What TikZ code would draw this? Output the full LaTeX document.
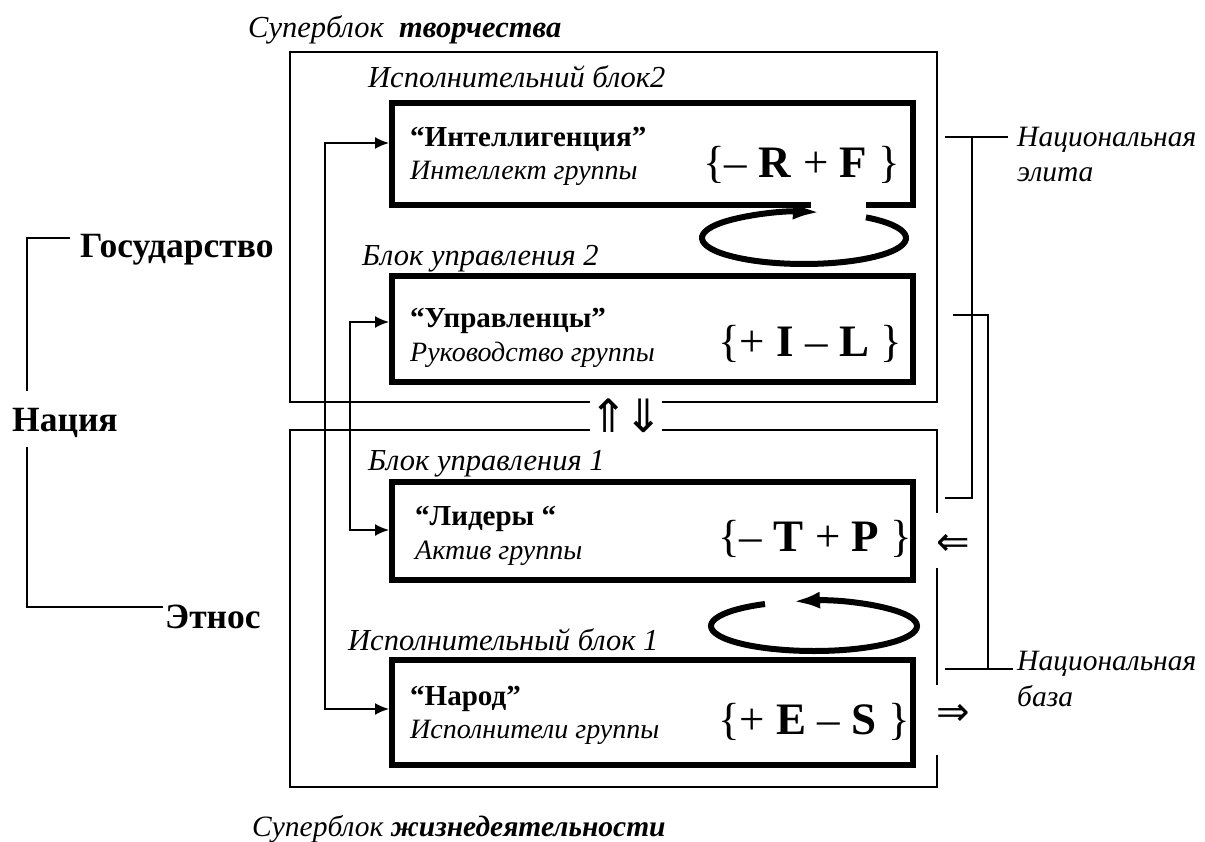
\documentclass[tikz,border=0pt]{standalone}
\usepackage{fontspec}
\setmainfont{Liberation Serif}
\newfontfamily\arrowfont{DejaVu Sans}
\usetikzlibrary{arrows.meta}
\begin{document}
\begin{tikzpicture}[x=1pt,y=1pt,
  bigbox/.style={draw, line width=6pt, minimum width=521pt, inner sep=0pt},
  frame/.style={line width=1.6pt},
  conn/.style={line width=2pt, {Latex[length=14pt,width=12pt]}-{Latex[length=14pt,width=12pt]}},
  cycl/.style={line width=6pt, -{Latex[length=27pt,width=17pt]}},
  brk/.style={line width=1.6pt},
  ilbl/.style={anchor=base west, inner sep=0pt, font=\fontsize{28}{30}\selectfont\itshape},
  hlbl/.style={anchor=base west, inner sep=0pt, font=\fontsize{30.5}{32}\selectfont\itshape},
  blbl/.style={anchor=base west, inner sep=0pt, font=\fontsize{29}{31}\selectfont\bfseries},
  nlbl/.style={anchor=base west, inner sep=0pt, font=\fontsize{35.5}{37}\selectfont\bfseries},
  formula/.style={anchor=base west, inner sep=0pt, font=\fontsize{45}{47}\selectfont},
  dbl/.style={inner sep=0pt, font=\fontsize{40}{42}\selectfont\arrowfont}
]
\fill[white] (0,0) rectangle (1205,-842);
\useasboundingbox (0,0) rectangle (1205,-842);

% superblocks
\draw[frame] (590,-402) -- (290,-402) -- (290,-52) -- (937,-52) -- (937,-402) -- (662,-402);
\draw[frame] (590,-430) -- (290,-430) -- (290,-787) -- (937,-787) -- (937,-755);
\draw[frame] (937,-685) -- (937,-568);
\draw[frame] (937,-513) -- (937,-430) -- (662,-430);

\node[hlbl] (sb1) at (248,-38) {Суперблок \ \textbf{творчества}};
\node[hlbl, font=\fontsize{29.5}{31}\selectfont\itshape] (sb2) at (252,-836) {Суперблок \textbf{жизнедеятельности}};

% block labels
\node[hlbl] (l1) at (368,-88) {Исполнительний блок2};
\node[hlbl] (l2) at (362,-266) {Блок управления 2};
\node[hlbl] (l3) at (368,-470) {Блок управления 1};
\node[hlbl] (l4) at (348,-650) {Исполнительный блок 1};

% boxes
\node[bigbox, minimum height=102pt] (b1) at (652.5,-154) {};
\node[bigbox, minimum height=106pt] (b2) at (652.5,-329) {};
\node[bigbox, minimum height=98pt] (b3) at (652.5,-531) {};
\node[bigbox, minimum height=105pt] (b4) at (652.5,-712.5) {};

\node[blbl] (t1) at (410,-147) {“Интеллигенция”};
\node[ilbl] (s1) at (410,-180) {Интеллект группы};
\node[formula] (f1) at (703,-178) {\{– \textbf{R} + \textbf{F} \}};

\node[blbl] (t2) at (410,-328) {“Управленцы”};
\node[ilbl] (s2) at (410,-361) {Руководство группы};
\node[formula] (f2) at (718,-356) {\{+ \textbf{I} – \textbf{L} \}};

\node[blbl] (t3) at (415,-525) {“Лидеры “};
\node[ilbl] (s3) at (415,-559) {Актив группы};
\node[formula] (f3) at (718,-551) {\{– \textbf{T} + \textbf{P} \}};

\node[blbl] (t4) at (410,-705) {“Народ”};
\node[ilbl] (s4) at (410,-738) {Исполнители группы};
\node[formula] (f4) at (718,-734) {\{+ \textbf{E} – \textbf{S} \}};

% cycles
\fill[white] (811,-198) rectangle (866,-210);
\draw[cycl] (804,-238) ++(52.6:102 and 26) arc[start angle=52.6, end angle=-279, x radius=102, y radius=26];
\draw[cycl] (814,-626) ++(118.4:103 and 25) arc[start angle=118.4, end angle=461.8, x radius=103, y radius=25];

% left connectors
\coordinate (o1) at (325,-143);
\coordinate (o4) at (325,-709);
\coordinate (i2) at (350,-322);
\coordinate (i3) at (350,-530);
\draw[conn] (b4.west |- o4) -- (o4) -- (o1) -- (b1.west |- o1);
\draw[conn] (b3.west |- i3) -- (i3) -- (i2) -- (b2.west |- i2);

% double arrows
\node[dbl, font=\fontsize{46}{48}\selectfont\arrowfont] (ud) at (626,-416) {⇑\kern-4pt⇓};
\node[dbl] (la) at (953,-545) {⇐};
\node[dbl] (ra) at (953,-715) {⇒};

% right brackets
\coordinate (e1) at (972,-137);
\coordinate (e2) at (972,-498);
\draw[brk] (945,-137) -- (1008,-137);
\draw[brk] (e1) -- (e2) -- (945,-498);
\coordinate (n1) at (988,-315);
\coordinate (n2) at (988,-669);
\draw[brk] (953,-315) -- (n1) -- (n2);
\draw[brk] (945,-669) -- (1013,-669);
\node[hlbl, font=\fontsize{29.5}{31}\selectfont\itshape] (ne1) at (1017,-147) {Национальная};
\node[hlbl, font=\fontsize{29.5}{31}\selectfont\itshape] (ne2) at (1017,-182) {элита};
\node[hlbl, font=\fontsize{29.5}{31}\selectfont\itshape] (nb1) at (1017,-670) {Национальная};
\node[hlbl, font=\fontsize{29.5}{31}\selectfont\itshape] (nb2) at (1017,-706) {база};

% left bracket
\node[nlbl] (gos) at (80,-258) {Государство};
\node[nlbl] (nat) at (12,-431) {Нация};
\node[nlbl] (eth) at (165,-628) {Этнос};
\draw[brk] (70,-238) -- (27,-238) -- (27,-391);
\draw[brk] (27,-447) -- (27,-607) -- (163,-607);
\end{tikzpicture}
\end{document}
